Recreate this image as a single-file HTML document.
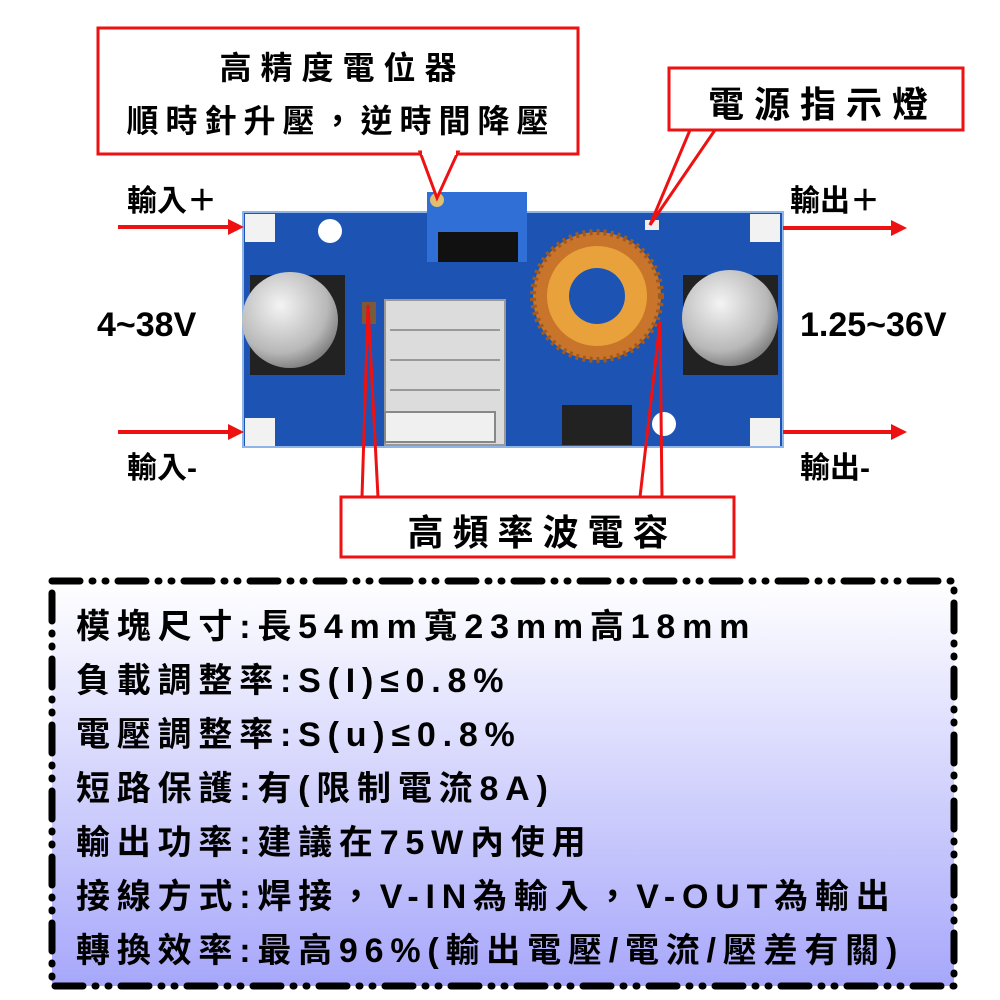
<!DOCTYPE html>
<html><head><meta charset="utf-8"><style>
body{margin:0;width:1000px;height:1000px;background:#fff;position:relative;overflow:hidden;font-family:"Liberation Sans","Noto Sans CJK TC",sans-serif;}
.t{position:absolute;font-weight:bold;color:#000;white-space:nowrap;}
</style></head><body>
<svg width="1000" height="1000" style="position:absolute;left:0;top:0">
<defs>
<linearGradient id="g" x1="0" y1="0" x2="0" y2="1"><stop offset="0" stop-color="#ffffff"/><stop offset="1" stop-color="#a7a7fb"/></linearGradient>
<radialGradient id="cap" cx="0.4" cy="0.35" r="0.7"><stop offset="0" stop-color="#f4f4f4"/><stop offset="0.7" stop-color="#b8b8b8"/><stop offset="1" stop-color="#777"/></radialGradient>
</defs>
<rect x="243" y="212" width="540" height="235" fill="#1d54b3"/>
<rect x="243" y="212" width="540" height="235" fill="none" stroke="#8fb4e8" stroke-width="2"/>
<rect x="245" y="214" width="30" height="28" fill="#f2f2f2"/><rect x="245" y="418" width="30" height="28" fill="#f2f2f2"/>
<rect x="750" y="214" width="30" height="28" fill="#f2f2f2"/><rect x="750" y="418" width="30" height="28" fill="#f2f2f2"/>
<circle cx="330" cy="231" r="12" fill="#fff"/><circle cx="664" cy="424" r="12" fill="#fff"/>
<rect x="250" y="275" width="95" height="100" fill="#222"/>
<circle cx="290" cy="320" r="48" fill="url(#cap)"/>
<rect x="683" y="275" width="95" height="100" fill="#222"/>
<circle cx="730" cy="318" r="48" fill="url(#cap)"/>
<rect x="427" y="192" width="100" height="70" fill="#2f6fd6"/>
<rect x="438" y="232" width="80" height="30" fill="#111"/>
<circle cx="437" cy="200" r="7" fill="#e0c070"/>
<rect x="385" y="300" width="120" height="145" fill="#dcdcdc"/>
<rect x="385" y="300" width="120" height="145" fill="none" stroke="#999" stroke-width="2"/>
<line x1="390" y1="330" x2="500" y2="330" stroke="#999" stroke-width="2"/><line x1="390" y1="360" x2="500" y2="360" stroke="#999" stroke-width="2"/><line x1="390" y1="390" x2="500" y2="390" stroke="#999" stroke-width="2"/>
<rect x="385" y="412" width="110" height="30" fill="#f0f0f0" stroke="#888" stroke-width="2"/>
<circle cx="597" cy="296" r="64" fill="#c8742a"/>
<circle cx="597" cy="296" r="50" fill="#e9a23b"/>
<circle cx="597" cy="296" r="28" fill="#1d54b3"/>
<circle cx="597" cy="296" r="64" fill="none" stroke="#a05a1e" stroke-width="6" stroke-dasharray="3 4"/>
<rect x="562" y="405" width="70" height="40" fill="#222"/>
<rect x="362" y="302" width="14" height="22" fill="#7a5a3a"/>
<rect x="645" y="220" width="14" height="10" fill="#eee"/>
<g stroke="#e11" stroke-width="4" fill="#e11">
<line x1="118" y1="227" x2="232" y2="227"/><line x1="118" y1="432" x2="232" y2="432"/>
<line x1="783" y1="228" x2="895" y2="228"/><line x1="783" y1="432" x2="895" y2="432"/>
</g>
<g fill="#e11">
<polygon points="244,227 228,219 228,235"/><polygon points="244,432 228,424 228,440"/>
<polygon points="907,228 891,220 891,236"/><polygon points="907,432 891,424 891,440"/>
</g>
<rect x="98" y="28" width="480" height="126" fill="#fff" stroke="#e11" stroke-width="3"/>
<polygon points="420,152 458,152 437,198" fill="#fff" stroke="#e11" stroke-width="3"/>
<rect x="422" y="148" width="34" height="7" fill="#fff"/>
<rect x="669" y="68" width="294" height="62" fill="#fff" stroke="#e11" stroke-width="3"/>
<polyline points="690,130 650,225 715,130" fill="none" stroke="#e11" stroke-width="3"/>
<rect x="341" y="497" width="393" height="60" fill="#fff" stroke="#e11" stroke-width="3"/>
<polyline points="362,497 368,305 378,497" fill="none" stroke="#e11" stroke-width="3"/>
<polyline points="640,497 660,322 662,497" fill="none" stroke="#e11" stroke-width="3"/>
<rect x="52" y="581" width="902" height="405" fill="url(#g)"/>
<rect x="52" y="581" width="902" height="405" fill="none" stroke="#000" stroke-width="7" stroke-linecap="round" stroke-dasharray="28 12 1 12 1 12"/>
</svg>
<div class="t" style="left:0;width:685px;top:43px;font-size:32px;text-align:center;letter-spacing:9px">高精度電位器</div>
<div class="t" style="left:0;width:682px;top:96px;font-size:32px;text-align:center;letter-spacing:7px">順時針升壓，逆時間降壓</div>
<div class="t" style="left:676px;width:294px;top:76px;font-size:36px;text-align:center;letter-spacing:10px">電源指示燈</div>
<div class="t" style="left:346px;width:393px;top:504px;font-size:36px;text-align:center;letter-spacing:9px">高頻率波電容</div>
<div class="t" style="left:127px;top:176px;font-size:30px">輸入＋</div>
<div class="t" style="left:97px;top:306px;font-size:34px">4~38V</div>
<div class="t" style="left:127px;top:443px;font-size:30px">輸入-</div>
<div class="t" style="left:790px;top:176px;font-size:30px">輸出＋</div>
<div class="t" style="left:800px;top:306px;font-size:34px">1.25~36V</div>
<div class="t" style="left:800px;top:443px;font-size:30px">輸出-</div>
<div class="t" style="left:76px;top:600px;font-size:34px;line-height:54px;letter-spacing:6.8px">
模塊尺寸:長54mm寬23mm高18mm<br>負載調整率:S(I)≤0.8%<br>電壓調整率:S(u)≤0.8%<br>短路保護:有(限制電流8A)<br>輸出功率:建議在75W內使用<br>接線方式:焊接，V-IN為輸入，V-OUT為輸出<br>轉換效率:最高96%(輸出電壓/電流/壓差有關)
</div>
</body></html>
